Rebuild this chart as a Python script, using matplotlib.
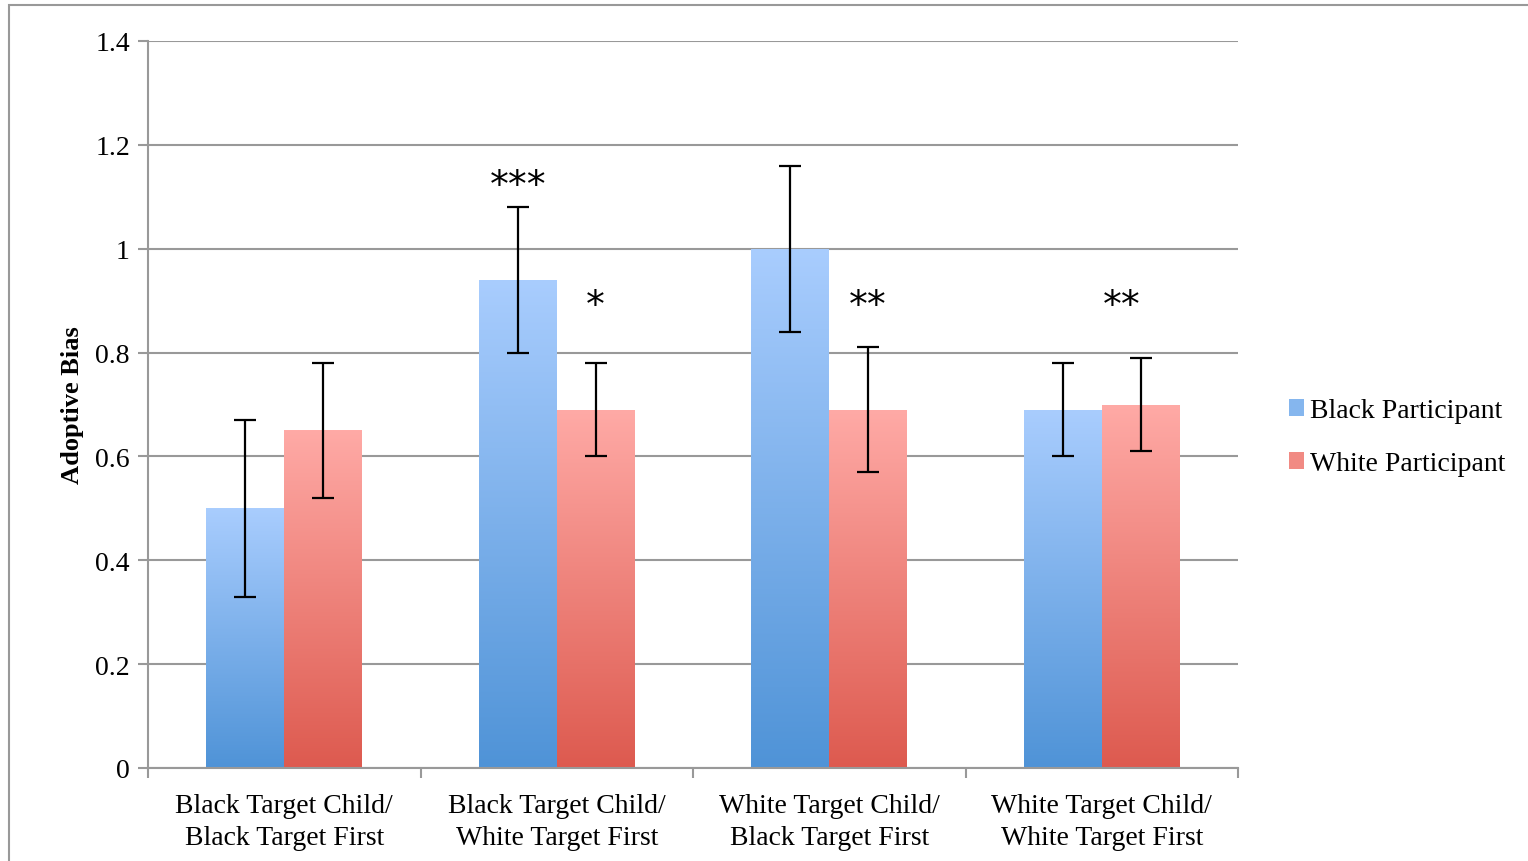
import matplotlib
matplotlib.use('Agg')
import matplotlib.pyplot as plt
import numpy as np
from matplotlib.colors import LinearSegmentedColormap
from matplotlib.patches import Rectangle

categories = ['Black Target Child/\nBlack Target First',
              'Black Target Child/\nWhite Target First',
              'White Target Child/\nBlack Target First',
              'White Target Child/\nWhite Target First']
series_names = ['Black Participant', 'White Participant']
black_values = [0.50, 0.94, 1.00, 0.69]
white_values = [0.65, 0.69, 0.69, 0.70]
black_errors = [0.17, 0.14, 0.16, 0.09]
white_errors = [0.13, 0.09, 0.12, 0.09]
# significance marks: (category index, series index, label)
stars = [(1, 0, '***'), (1, 1, '*'), (2, 1, '**'), (3, 1, '**')]
star_heights = [1.12, 0.89, 0.89, 0.89]

plt.rcParams['font.family'] = ['Liberation Serif', 'DejaVu Serif']

fig = plt.figure(figsize=(15.28, 8.62), dpi=100)
ax = fig.add_axes([148 / 1528, 1 - 769 / 862, 1090 / 1528, 727 / 862])

# outer frame of the chart area
fig.patches.append(Rectangle((9 / 1528, -0.01), 1.02, 1 - 6 / 862 + 0.01,
                             transform=fig.transFigure, fill=False,
                             edgecolor='#999999', linewidth=1.5))

blue_cmap = LinearSegmentedColormap.from_list('blue', ['#4F93D7', '#A9CDFE'])
red_cmap = LinearSegmentedColormap.from_list('red', ['#DD5A4F', '#FFAAA6'])

x = np.arange(len(categories))
width = 0.286
grad = np.linspace(0, 1, 256).reshape(-1, 1)

handles = []
for offset, values, errors, cmap, name in [(-width / 2, black_values, black_errors, blue_cmap, series_names[0]),
                                           (width / 2, white_values, white_errors, red_cmap, series_names[1])]:
    bars = ax.bar(x + offset, values, width, color='none', edgecolor='none', zorder=2)
    for bar in bars:
        bx, by = bar.get_x(), bar.get_y()
        bw, bh = bar.get_width(), bar.get_height()
        im = ax.imshow(grad, cmap=cmap, aspect='auto', origin='lower',
                       extent=[bx, bx + bw, by, by + bh], zorder=2)
        im.set_clip_path(bar)
    ax.errorbar(x + offset, values, yerr=errors, fmt='none', ecolor='black',
                elinewidth=1.6, capsize=8, capthick=1.6, zorder=3)
    handles.append(Rectangle((0, 0), 1, 1, facecolor=cmap(0.6), edgecolor='none', label=name))

for (ci, si, label), h in zip(stars, star_heights):
    xpos = x[ci] + (-width / 2 if si == 0 else width / 2)
    if ci == 3:
        xpos -= 0.07
    ax.text(xpos, h, label, ha='center', va='center', fontsize=27, family='DejaVu Sans')

ax.set_xlim(-0.5, 3.5)
ax.set_ylim(0, 1.4)
ax.set_yticks(np.arange(0, 1.41, 0.2))
ax.set_yticklabels(['0', '0.2', '0.4', '0.6', '0.8', '1', '1.2', '1.4'], fontsize=20)
ax.set_xticks([-0.5, 0.5, 1.5, 2.5, 3.5])
ax.set_xticklabels([])
ax.set_xticks(x, minor=True)
ax.set_xticklabels(categories, minor=True, fontsize=20, linespacing=1.38)
ax.tick_params(axis='x', which='minor', length=0, pad=18)
ax.tick_params(axis='x', which='major', length=7, color='#999999', width=1.5)
ax.tick_params(axis='y', length=7, color='#999999', width=1.5, pad=6)

ax.yaxis.grid(True, color='#999999', linewidth=1.5, zorder=0)
ax.set_axisbelow(True)
for side in ['top', 'right']:
    ax.spines[side].set_visible(False)
for side in ['left', 'bottom']:
    ax.spines[side].set_color('#999999')
    ax.spines[side].set_linewidth(1.5)

ax.set_ylabel('Adoptive Bias', fontsize=19, fontweight='bold', labelpad=8)

ax.legend(handles=handles, loc='center left', bbox_to_anchor=(1.024, 0.455), frameon=False,
          fontsize=20, handlelength=0.55, handleheight=0.55, handletextpad=0.2,
          labelspacing=1.0)

fig.savefig('out.png', dpi=100)
